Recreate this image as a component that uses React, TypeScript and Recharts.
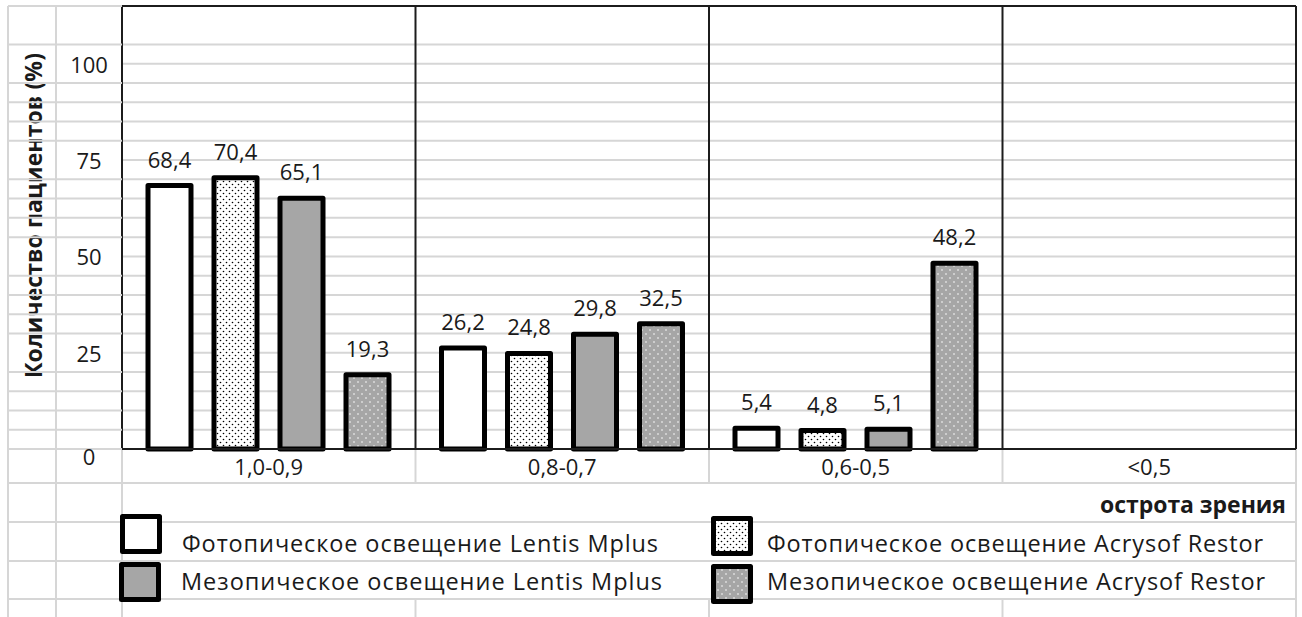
import React from 'react';
import { BarChart, Bar, XAxis, YAxis, CartesianGrid, LabelList } from 'recharts';

// ---- data ----
const categories = ['1,0-0,9', '0,8-0,7', '0,6-0,5', '<0,5'];
const photopicLentis: (number | null)[] = [68.4, 26.2, 5.4, null];
const photopicAcrysof: (number | null)[] = [70.4, 24.8, 4.8, null];
const mesopicLentis: (number | null)[] = [65.1, 29.8, 5.1, null];
const mesopicAcrysof: (number | null)[] = [19.3, 32.5, 48.2, null];
const seriesNames = [
  'Фотопическое освещение Lentis Mplus',
  'Фотопическое освещение Acrysof Restor',
  'Мезопическое освещение Lentis Mplus',
  'Мезопическое освещение Acrysof Restor',
];
const labelTicks = [0, 25, 50, 75, 100];
const majorTicks = [25, 50, 75, 100];
const rowTicks = [0, 5, 10, 15, 20, 25, 30, 35, 40, 45, 50, 55, 60, 65, 70, 75, 80, 85, 90, 95, 100, 105, 115];
const yMax = 115;
const yTitle = 'Количество пациентов (%)';
const xTitle = 'острота зрения';

const data = categories.map((c, i) => ({
  category: c,
  pl: photopicLentis[i],
  pa: photopicAcrysof[i],
  ml: mesopicLentis[i],
  ma: mesopicAcrysof[i],
}));

// ---- style ----
const FONT = "'Open Sans', 'Noto Sans', sans-serif";
const GRAY_LINE = '#d6d6d6';
const BLACK_LINE = '#1c1c1c';
const TEXT = '#1a1a1a';
const BAR_GRAY = '#a6a6a6';
const W = 1302;
const H = 617;
const CHART_H = 483;
const PLOT_LEFT = 122;
const PLOT_RIGHT = 1296;
const PLOT_BOTTOM = 449;
const BAND = (PLOT_RIGHT - PLOT_LEFT) / 4;

const fills = ['#ffffff', 'url(#dotsBlack)', BAR_GRAY, 'url(#dotsWhite)'];
const keys = ['pl', 'pa', 'ml', 'ma'];

const fmt = (v: any) => (v == null ? '' : Number(v).toFixed(1).replace('.', ','));

const RowTick = (props: any) => {
  const { x, y, payload } = props;
  const v = payload.value;
  const isLabel = labelTicks.includes(v);
  const showLine = !isLabel || v === 0;
  return (
    <g>
      {showLine && <line x1={x - 114} x2={x} y1={y} y2={y} stroke={GRAY_LINE} strokeWidth={2} />}
      {isLabel && (
        <text x={x - 33} y={y} dy={v === 0 ? 16 : 9} textAnchor="middle" fill={TEXT} fontSize={22} fontFamily={FONT}>
          {v}
        </text>
      )}
    </g>
  );
};

const XTick = (props: any) => {
  const { x, y, payload } = props;
  return (
    <text x={x} y={y} dy={24} textAnchor="middle" fill={TEXT} fontSize={22} fontFamily={FONT}>
      {payload.value}
    </text>
  );
};

const renderYTitle = (props: any) => {
  const vb = props.viewBox || { x: 0, y: 6, width: 122, height: 443 };
  const cx = vb.x + 33;
  const cy = vb.y + vb.height / 2 - 12;
  return (
    <text
      x={cx}
      y={cy}
      transform={`rotate(-90, ${cx}, ${cy})`}
      textAnchor="middle"
      dominantBaseline="central"
      fill={TEXT}
      fontSize={23}
      fontWeight={700}
      fontFamily={FONT}
      textLength={325}
      lengthAdjust="spacing"
    >
      {yTitle}
    </text>
  );
};

const verticalGen = (p: any) => {
  const o = p.offset;
  return [1, 2, 3, 4].map((i) => o.left + (o.width * i) / 4);
};

const legendLayout = [
  { bx: 120, by: 514, tx: 182, ty: 552, tw: 476 },
  { bx: 711, by: 516, tx: 767, ty: 552, tw: 496 },
  { bx: 119, by: 562, tx: 181, ty: 590, tw: 481 },
  { bx: 711, by: 564, tx: 767, ty: 590, tw: 498 },
];

export default function App() {
  const bounds = [1, 2, 3].map((i) => PLOT_LEFT + BAND * i);
  return (
    <div
      style={{
        position: 'absolute',
        left: 0,
        top: 0,
        width: W,
        height: H,
        background: '#fff',
        fontFamily: FONT,
        overflow: 'hidden',
      }}
    >
      <svg width={W} height={H} style={{ position: 'absolute', left: 0, top: 0 }}>
        <defs>
          <pattern id="dotsBlack" width={6} height={6} patternUnits="userSpaceOnUse">
            <rect width={6} height={6} fill="#ffffff" />
            <circle cx={1.5} cy={1.5} r={0.8} fill="#000" />
            <circle cx={4.5} cy={4.5} r={0.8} fill="#000" />
          </pattern>
          <pattern id="dotsWhite" width={8} height={8} patternUnits="userSpaceOnUse">
            <rect width={8} height={8} fill={BAR_GRAY} />
            <circle cx={2} cy={2} r={0.8} fill="#ffffff" />
            <circle cx={6} cy={6} r={0.8} fill="#ffffff" />
          </pattern>
        </defs>
        {/* spreadsheet cell lines */}
        <line x1={8} x2={8} y1={6} y2={H} stroke={GRAY_LINE} strokeWidth={2} />
        <line x1={56} x2={56} y1={6} y2={H} stroke={GRAY_LINE} strokeWidth={2} />
        <line x1={PLOT_LEFT} x2={PLOT_LEFT} y1={PLOT_BOTTOM} y2={H} stroke={GRAY_LINE} strokeWidth={2} />
        <line x1={PLOT_RIGHT} x2={PLOT_RIGHT} y1={PLOT_BOTTOM} y2={H} stroke={GRAY_LINE} strokeWidth={2} />
        {bounds.map((bx, i) => (
          <g key={i}>
            <line x1={bx} x2={bx} y1={PLOT_BOTTOM} y2={483} stroke={GRAY_LINE} strokeWidth={2} />
            <line x1={bx} x2={bx} y1={599} y2={H} stroke={GRAY_LINE} strokeWidth={2} />
          </g>
        ))}
        {[483, 522, 561, 599].map((y) => (
          <line key={y} x1={8} x2={PLOT_RIGHT} y1={y} y2={y} stroke={GRAY_LINE} strokeWidth={2} />
        ))}
        {/* x title */}
        <text x={1286} y={513} textAnchor="end" fill={TEXT} fontSize={23} fontWeight={700} fontFamily={FONT}
          textLength={186} lengthAdjust="spacing">
          {xTitle}
        </text>
        {/* legend */}
        {legendLayout.map((l, i) => (
          <g key={i}>
            <rect
              x={l.bx + 2.5}
              y={l.by + 2.5}
              width={37}
              height={35}
              fill={fills[i]}
              stroke="#000"
              strokeWidth={5}
              strokeLinejoin="round"
            />
            <text x={l.tx} y={l.ty} fill={TEXT} fontSize={23.5} fontFamily={FONT} textLength={l.tw} lengthAdjust="spacing">
              {seriesNames[i]}
            </text>
          </g>
        ))}
      </svg>
      <div style={{ position: 'absolute', left: 0, top: 0 }}>
        <BarChart
          width={W}
          height={CHART_H}
          data={data}
          margin={{ top: 6, right: W - PLOT_RIGHT, left: 0, bottom: 0 }}
          barSize={43}
          barGap={23}
        >
          <CartesianGrid yAxisId="rows" vertical={false} stroke={GRAY_LINE} strokeWidth={2} />
          <CartesianGrid
            yAxisId="major"
            stroke={BLACK_LINE}
            strokeWidth={2}
            verticalCoordinatesGenerator={verticalGen}
          />
          <XAxis
            dataKey="category"
            height={34}
            tickLine={false}
            tickSize={0}
            axisLine={{ stroke: BLACK_LINE, strokeWidth: 2 }}
            tick={XTick}
            interval={0}
          />
          <YAxis
            yAxisId="rows"
            width={122}
            domain={[0, yMax]}
            ticks={rowTicks}
            interval={0}
            tickLine={false}
            tickSize={0}
            tickMargin={0}
            axisLine={{ stroke: BLACK_LINE, strokeWidth: 2 }}
            tick={RowTick}
            label={renderYTitle}
          />
          <YAxis yAxisId="major" hide width={0} domain={[0, yMax]} ticks={majorTicks} interval={0} />
          {keys.map((k, i) => (
            <Bar
              key={k}
              yAxisId="rows"
              dataKey={k}
              name={seriesNames[i]}
              fill={fills[i]}
              stroke="#000"
              strokeWidth={5}
              strokeLinejoin="round"
              isAnimationActive={false}
            >
              <LabelList
                dataKey={k}
                position="top"
                offset={18}
                formatter={fmt}
                fill={TEXT}
                stroke="none"
                fontSize={22}
                fontFamily={FONT}
              />
            </Bar>
          ))}
        </BarChart>
      </div>
    </div>
  );
}
